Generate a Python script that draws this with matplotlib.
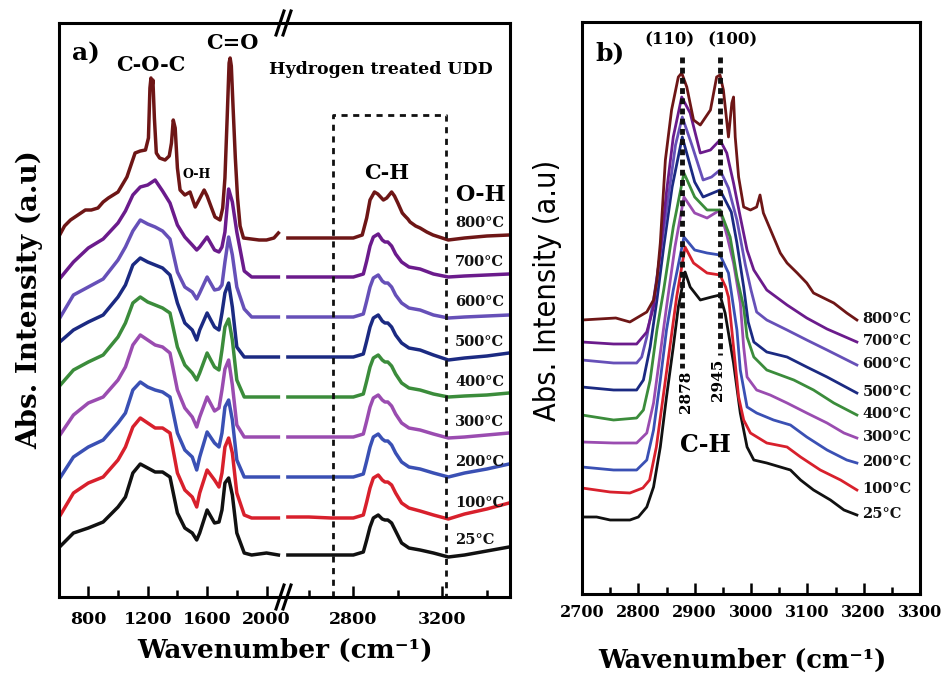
import matplotlib
matplotlib.use('Agg')
import matplotlib.pyplot as plt
from matplotlib.lines import Line2D
from matplotlib import font_manager

plt.rcParams['font.family'] = ['DejaVu Serif']
plt.rcParams['font.weight'] = 'bold'

W, H = 944, 679
def fx(px):
    return px / W
def fy(py):
    return 1 - py / H

# ---------------- data ----------------
temps = ['25°C', '100°C', '200°C', '300°C', '400°C', '500°C', '600°C', '700°C', '800°C']
colors = ['#111111', '#d8202c', '#3a50b4', '#9a4cb0', '#3b8c3b',
          '#1b2a82', '#6650b8', '#6b1b8c', '#6e1616']

# panel a: stacking offsets (a.u.)
a_offsets = [42, 79, 120, 160, 200, 240, 280, 320, 359]

# panel a, low-wavenumber segment
aL_wn = [600, 700, 800, 900, 1000, 1050, 1100, 1150, 1200, 1250, 1300, 1350, 1400, 1450,
         1500, 1530, 1550, 1600, 1650, 1680, 1700, 1720, 1745, 1770, 1800, 1850, 1900, 2000, 2080]
aL_25 = [7, 22, 27, 33, 48, 58, 82, 91, 87, 83, 83, 78, 42, 27, 22, 15, 22, 45, 32, 33, 45, 72, 77, 60, 22, 2, 0, 2, 0]
aL_100 = [0, 25, 35, 41, 58, 71, 91, 100, 95, 90, 90, 85, 45, 28, 21, 11, 25, 48, 38, 31, 45, 71, 80, 65, 25, 3, 0, 0, 0]
aL_200 = [-3, 20, 30, 37, 54, 64, 87, 95, 90, 87, 85, 80, 44, 27, 20, 7, 20, 45, 34, 30, 44, 70, 77, 57, 17, 0, 0, 0, 0]
aL_300 = [0, 22, 34, 40, 57, 70, 92, 102, 97, 92, 90, 84, 47, 29, 20, 10, 20, 40, 26, 29, 47, 68, 77, 52, 12, 0, 0, 0, 0]
aL_400 = [10, 27, 35, 42, 60, 74, 94, 100, 95, 92, 89, 84, 50, 32, 24, 17, 24, 44, 30, 27, 47, 70, 78, 57, 17, 0, 0, 0, 0]
aL_500 = [14, 27, 35, 42, 60, 72, 92, 99, 95, 92, 89, 82, 54, 34, 27, 17, 27, 44, 30, 27, 44, 64, 74, 50, 10, 0, 0, 0, 0]
aL_600 = [-3, 22, 30, 38, 57, 70, 86, 97, 93, 90, 86, 78, 45, 30, 25, 18, 24, 40, 27, 28, 32, 55, 80, 62, 30, 8, 0, 0, 0]
aL_700 = [-3, 15, 29, 38, 54, 66, 82, 90, 92, 97, 86, 74, 52, 40, 32, 27, 30, 40, 27, 25, 30, 45, 88, 75, 45, 6, 0, 0, 0]
aL800_wn = [600, 640, 680, 720, 780, 820, 865, 900, 935, 1000, 1060, 1115, 1150, 1185, 1205, 1215, 1222,
            1228, 1235, 1245, 1258, 1280, 1317, 1345, 1360, 1372, 1385, 1400, 1418, 1450, 1485, 1520,
            1545, 1580, 1600, 1630, 1653, 1687, 1705, 1720, 1735, 1748, 1755, 1763, 1775, 1790, 1805,
            1822, 1845, 1950, 2000, 2050, 2080]
aL800_h = [1, 12, 18, 22, 28, 28, 30, 36, 40, 46, 61, 85, 87, 88, 100, 150, 160,
           150, 158, 120, 85, 80, 78, 82, 95, 118, 110, 70, 48, 43, 46, 31,
           38, 48, 42, 30, 21, 18, 30, 60, 120, 175, 180, 172, 130, 80, 40,
           12, 0, -2, -2, 0, 5]

# panel a, high-wavenumber segment
aR_wn = [2506, 2600, 2700, 2800, 2845, 2860, 2875, 2890, 2912, 2930, 2942, 2955, 2972, 2990,
         3017, 3050, 3100, 3160, 3227, 3300, 3400, 3500]
aR_25 = [0, 0, 0, 0, 3, 15, 28, 37, 40, 36, 35, 35, 32, 24, 12, 7, 5, 2, -2, 0, 4, 8]
aR_100 = [1, 1, 0, 0, 3, 16, 30, 40, 43, 38, 36, 36, 33, 25, 15, 10, 7, 3, -1, 4, 9, 15]
aR_200 = [0, 0, 0, 0, 3, 16, 30, 40, 43, 38, 36, 36, 32, 24, 15, 10, 8, 4, 0, 4, 8, 13]
aR_300 = [0, 0, 0, 0, 3, 16, 30, 39, 42, 37, 35, 35, 31, 23, 14, 9, 7, 3, -1, 0, 2, 4]
aR_400 = [0, 0, 0, 0, 3, 16, 30, 39, 42, 37, 35, 35, 31, 23, 14, 9, 7, 3, 0, 1, 2, 4]
aR_500 = [0, 0, 0, 0, 3, 16, 30, 39, 42, 36, 34, 34, 30, 22, 14, 9, 7, 2, -3, -1, 1, 4]
aR_600 = [0, 0, 0, 0, 3, 16, 30, 39, 42, 36, 34, 34, 30, 22, 14, 9, 7, 2, -1, 0, 1, 2]
aR_700 = [0, 0, 0, 0, 3, 16, 31, 40, 43, 37, 35, 35, 31, 23, 15, 10, 8, 3, 0, 1, 2, 3]
aR800_wn = [2506, 2600, 2700, 2800, 2840, 2860, 2875, 2895, 2910, 2935, 2950, 2972, 2985, 3000,
            3020, 3032, 3045, 3055, 3080, 3100, 3130, 3158, 3227, 3300, 3400, 3500]
aR800_h = [0, 0, 0, 0, 3, 20, 38, 46, 44, 38, 40, 46, 42, 35, 25, 22, 19, 16, 12, 10, 6, 3, -2, 0, 2, 3]

# panel b: stacking offsets and spectra (C-H region)
b_offsets = [77, 106, 127, 152, 179, 207, 234, 252, 274]
b_wn_25 = [2700, 2726, 2750, 2785, 2800, 2815, 2827, 2839, 2850, 2862, 2871, 2883, 2892, 2910, 2930,
           2945, 2954, 2969, 2981, 2993, 3005, 3028, 3052, 3070, 3088, 3111, 3141, 3165, 3188]
b_h_25 = [0, 0, -3, -3, 0, 10, 30, 70, 120, 170, 210, 245, 230, 217, 220,
          222, 204, 154, 104, 70, 57, 54, 50, 47, 37, 27, 17, 7, 2]
b_wn_100 = [2700, 2750, 2785, 2808, 2820, 2832, 2844, 2856, 2868, 2883, 2898, 2922, 2945, 2955,
            2960, 2969, 2978, 2987, 2999, 3028, 3064, 3088, 3123, 3159, 3188]
b_h_100 = [0, -4, -5, 0, 8, 41, 91, 141, 191, 241, 225, 215, 213, 201,
           191, 141, 91, 68, 55, 45, 41, 31, 18, 8, -2]
b_wn_200 = [2700, 2756, 2797, 2815, 2827, 2839, 2850, 2862, 2881, 2900, 2922, 2945, 2960, 2975,
            2981, 2993, 3010, 3040, 3070, 3099, 3135, 3170, 3188]
b_h_200 = [0, -3, -3, 7, 37, 87, 137, 177, 230, 217, 214, 212, 194, 137,
           97, 60, 54, 47, 42, 30, 17, 7, 4]
b_wn_300 = [2700, 2756, 2797, 2815, 2827, 2839, 2850, 2865, 2881, 2900, 2922, 2945, 2958, 2969,
            2981, 2987, 2993, 3010, 3034, 3064, 3099, 3135, 3165, 3188]
b_h_300 = [0, -1, -1, 9, 39, 89, 135, 195, 245, 229, 224, 232, 205, 179,
           139, 95, 65, 52, 47, 39, 29, 19, 9, 4]
b_wn_400 = [2700, 2756, 2797, 2809, 2821, 2833, 2845, 2862, 2881, 2900, 2922, 2945, 2963, 2975,
            2987, 2993, 3005, 3028, 3052, 3076, 3111, 3147, 3188]
b_h_400 = [0, -5, -3, 5, 35, 85, 125, 188, 242, 218, 205, 205, 178, 138,
           108, 78, 58, 45, 40, 35, 25, 12, 0]
b_wn_500 = [2700, 2756, 2797, 2809, 2821, 2833, 2845, 2860, 2878, 2900, 2915, 2945, 2965, 2975,
            2987, 2995, 3005, 3028, 3064, 3099, 3135, 3188]
b_h_500 = [0, -3, -3, 7, 40, 87, 140, 200, 250, 205, 190, 197, 175, 144,
           100, 65, 45, 35, 30, 20, 10, -6]
b_wn_600 = [2700, 2756, 2797, 2806, 2815, 2827, 2840, 2855, 2866, 2878, 2895, 2915, 2930, 2945,
            2960, 2975, 2990, 3000, 3010, 3028, 3064, 3099, 3135, 3188]
b_h_600 = [0, -3, -3, 3, 23, 60, 110, 170, 215, 243, 215, 180, 183, 190,
           172, 140, 95, 70, 48, 40, 30, 20, 10, -5]
b_wn_700 = [2700, 2756, 2797, 2815, 2827, 2839, 2850, 2862, 2877, 2892, 2910, 2928, 2945, 2957,
            2969, 2981, 2993, 3005, 3028, 3064, 3099, 3135, 3188]
b_h_700 = [0, -2, -2, 10, 35, 90, 150, 205, 245, 229, 189, 192, 202, 189,
           159, 125, 92, 72, 52, 37, 24, 13, 0]
b_wn_800 = [2700, 2760, 2785, 2800, 2815, 2827, 2833, 2839, 2848, 2859, 2871, 2877, 2886, 2898,
            2910, 2928, 2939, 2945, 2951, 2960, 2966, 2969, 2972, 2978, 2987, 2999, 3010, 3016,
            3022, 3040, 3052, 3064, 3082, 3099, 3111, 3147, 3170, 3188]
b_h_800 = [0, 2, -2, 3, 8, 20, 40, 77, 160, 210, 243, 247, 233, 200,
           195, 210, 243, 245, 230, 183, 217, 223, 183, 143, 113, 110, 113, 125,
           107, 83, 67, 57, 47, 37, 27, 17, 7, 0]

peak_positions = [2878, 2945]
peak_labels = ['(110)', '(100)']

aL_series = [(aL_wn, aL_25), (aL_wn, aL_100), (aL_wn, aL_200), (aL_wn, aL_300), (aL_wn, aL_400),
             (aL_wn, aL_500), (aL_wn, aL_600), (aL_wn, aL_700), (aL800_wn, aL800_h)]
aR_series = [(aR_wn, aR_25), (aR_wn, aR_100), (aR_wn, aR_200), (aR_wn, aR_300), (aR_wn, aR_400),
             (aR_wn, aR_500), (aR_wn, aR_600), (aR_wn, aR_700), (aR800_wn, aR800_h)]
b_series = [(b_wn_25, b_h_25), (b_wn_100, b_h_100), (b_wn_200, b_h_200), (b_wn_300, b_h_300),
            (b_wn_400, b_h_400), (b_wn_500, b_h_500), (b_wn_600, b_h_600), (b_wn_700, b_h_700),
            (b_wn_800, b_h_800)]

# ---------------- figure ----------------
fig = plt.figure(figsize=(W / 100, H / 100), dpi=100)

axL = fig.add_axes([fx(58.6), fy(597), (283 - 58.6) / W, 574 / H])
axR = fig.add_axes([fx(283), fy(597), (510 - 283) / W, 574 / H])
axB = fig.add_axes([fx(582), fy(594), 338 / W, 572 / H])

for ax in (axL, axR, axB):
    for s in ax.spines.values():
        s.set_linewidth(2.2)
        s.set_color('black')
    ax.set_yticks([])
    ax.tick_params(axis='x', which='major', direction='in', length=8, width=1.8,
                   labelsize=12.5, pad=10)
    ax.tick_params(axis='x', which='minor', direction='in', length=5, width=1.8)

axL.spines['right'].set_visible(False)
axR.spines['left'].set_visible(False)

axL.set_xlim(600, 2111)
axR.set_xlim(2484, 3504)
axL.set_ylim(0, 574)
axR.set_ylim(0, 574)
axL.set_xticks([800, 1200, 1600, 2000])
axL.set_xticks([1000, 1400, 1800], minor=True)
axR.set_xticks([2800, 3200])
axR.set_xticks([2600, 3000, 3400], minor=True)

lw_a = 2.5
for (x, h), off, c in zip(aL_series, a_offsets, colors):
    axL.plot(x, [off + v for v in h], color=c, lw=lw_a, solid_joinstyle='round')
for (x, h), off, c, t in zip(aR_series, a_offsets, colors, temps):
    axR.plot(x, [off + v for v in h], color=c, lw=lw_a, solid_joinstyle='round')
    axR.text(3257, off + 15, t, fontsize=10.5, ha='left', va='center', color='#111111')

# dashed box around C-H region
box_x = [2710, 3215]
box_top = 482
axR.plot([box_x[0], box_x[0], box_x[1], box_x[1]], [0, box_top, box_top, 0],
         color='#111111', lw=2.0, ls=(0, (2.2, 2.0)), clip_on=False)

# annotations panel a
fig.text(fx(86), fy(53), 'a)', fontsize=18, ha='center', va='center')
axL.text(1222, 532, 'C-O-C', fontsize=15, ha='center', va='center')
axL.text(1768, 554, 'C=O', fontsize=15, ha='center', va='center')
axL.text(1532, 422, 'O-H', fontsize=9, ha='center', va='center')
axR.text(2924, 527, 'Hydrogen treated UDD', fontsize=12.5, ha='center', va='center')
axR.text(2951, 424, 'C-H', fontsize=15, ha='center', va='center')
axR.text(3369, 402, 'O-H', fontsize=16, ha='center', va='center')

# axis break marks
for py in (23, 597):
    for dx in (0, 7):
        fig.add_artist(Line2D([fx(276 + dx), fx(284 + dx)], [fy(py + 12), fy(py - 12)],
                              color='black', lw=2.2, transform=fig.transFigure))

fig.text(fx(285), fy(650), 'Wavenumber (cm⁻¹)', fontsize=19, ha='center', va='center')
fig.text(fx(30), fy(300), 'Abs. Intensity (a.u)', fontsize=20, rotation=90,
         ha='center', va='center')

# ---------------- panel b ----------------
axB.set_xlim(2700, 3300)
axB.set_ylim(0, 572)
axB.set_xticks(list(range(2700, 3301, 100)))
axB.set_xticks(list(range(2750, 3300, 100)), minor=True)
axB.tick_params(axis='x', which='major', labelsize=11.5, pad=7)

for (x, h), off, c, t in zip(b_series, b_offsets, colors, temps):
    ys = [off + v for v in h]
    axB.plot(x, ys, color=c, lw=2.0, solid_joinstyle='round')
    axB.text(3198, ys[-1] + 1, t, fontsize=10.5, ha='left', va='center', color='#111111')

dot_style = (0, (1.2, 0.9))
axB.plot([peak_positions[0]] * 2, [537, 226], color='#111111', lw=3.5, ls=dot_style)
axB.plot([peak_positions[1]] * 2, [537, 239], color='#111111', lw=3.5, ls=dot_style)
axB.text(2856, 554, peak_labels[0], fontsize=12, ha='center', va='center')
axB.text(2967, 554, peak_labels[1], fontsize=12, ha='center', va='center')
axB.text(2885, 202, str(peak_positions[0]), fontsize=11, rotation=90, ha='center', va='center')
axB.text(2942, 214, str(peak_positions[1]), fontsize=11, rotation=90, ha='center', va='center')
axB.text(2919, 149, 'C-H', fontsize=17, ha='center', va='center')
fig.text(fx(610), fy(53), 'b)', fontsize=18, ha='center', va='center')

fig.text(fx(742), fy(660), 'Wavenumber (cm⁻¹)', fontsize=18.5, ha='center', va='center')

names = {f.name for f in font_manager.fontManager.ttflist}
cond = [f for f in font_manager.fontManager.ttflist
        if f.name == 'DejaVu Sans' and 'condensed' in str(f.stretch)]
if 'Liberation Sans Narrow' in names:
    fig.text(fx(548), fy(290), 'Abs. Intensity (a.u)', fontsize=21, rotation=90,
             ha='center', va='center', family=['Liberation Sans Narrow', 'DejaVu Sans'],
             weight='normal')
elif cond:
    fig.text(fx(548), fy(290), 'Abs. Intensity (a.u)', fontsize=22, rotation=90,
             ha='center', va='center', family=['DejaVu Sans'], stretch='condensed',
             weight='normal')
else:
    fig.text(fx(548), fy(290), 'Abs. Intensity (a.u)', fontsize=20.5, rotation=90,
             ha='center', va='center', family=['DejaVu Sans'], weight='normal')

fig.savefig('out.png', dpi=100)
